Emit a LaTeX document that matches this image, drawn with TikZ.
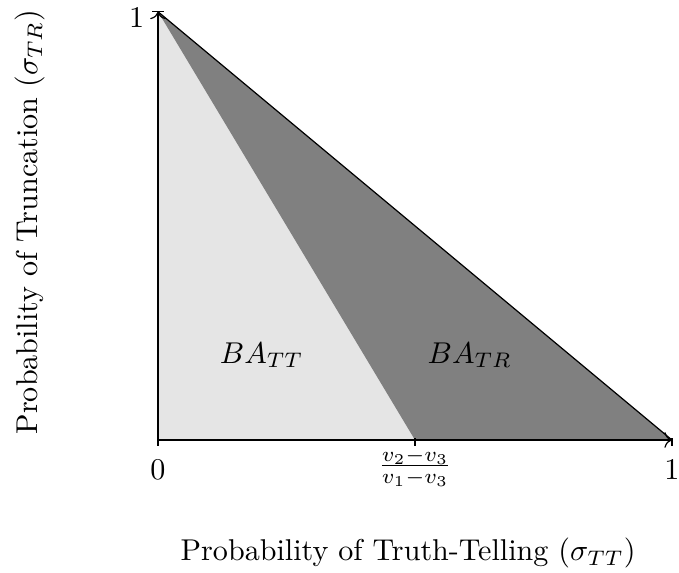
\documentclass[tikz,border=0pt]{standalone}
\usepackage{amsmath}
\usetikzlibrary{arrows.meta}
\tikzset{
	axisline/.style={thin, ->},
	tickmark/.style={thin},
	ticklabel/.style={inner sep=1pt},
	axislabel/.style={},
	regionlabel/.style={},
}
\begin{document}
\begin{tikzpicture}[>=To]
	\useasboundingbox (-1.845,-1.553) rectangle (6.083,5.137);
	\coordinate (O) at (0,0);
	\coordinate (ytop) at (0,5);
	\coordinate (xmid) at (3,0);
	\coordinate (xend) at (6,0);
	% regions
	\fill[black!10] (O) -- (ytop) -- (xmid) -- cycle;
	\fill[black!50] (xmid) -- (ytop) -- (xend) -- cycle;
	\draw[thin] (ytop) -- (xend);
	% axes
	\draw[axisline] (O) -- (xend);
	\draw[axisline] (O) -- (ytop);
	\foreach \x in {0,3,6}
		\draw[tickmark] (\x,0.02) -- (\x,-0.07);
	\draw[tickmark] (-0.07,5) -- (0.07,5);
	% tick labels
	\node[ticklabel] (x0) at (0,-0.35) {$0$};
	\node[ticklabel] (xfrac) at (3,-0.32) {$\frac{v_2-v_3}{v_1-v_3}$};
	\node[ticklabel] (x1) at (6,-0.35) {$1$};
	\node[ticklabel] (y1) at (-0.25,4.93) {$1$};
	% region names
	\node[regionlabel] (batt) at (1.21,0.99) {$BA_{TT}$};
	\node[regionlabel] (batr) at (3.64,0.99) {$BA_{TR}$};
	% axis titles
	\node[axislabel] (xlab) at (2.92,-1.32) {Probability of Truth-Telling ($\sigma_{TT}$)};
	\node[axislabel, rotate=90] (ylab) at (-1.495,2.545) {Probability of Truncation ($\sigma_{TR}$)};
\end{tikzpicture}
\end{document}
